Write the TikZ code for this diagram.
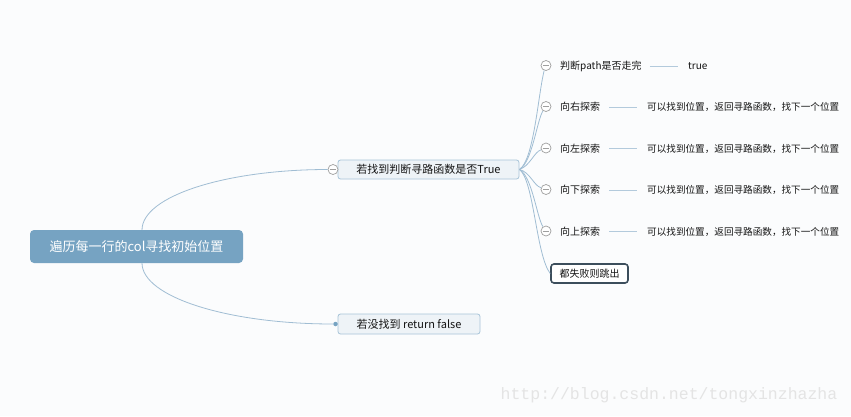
\documentclass[tikz,border=0pt]{standalone}
\usepackage{fontspec}
\setmainfont{Noto Sans CJK SC}
\newfontfamily\wmfont{Liberation Mono}
\usetikzlibrary{calc}
\definecolor{rootblue}{RGB}{118,163,194}
\definecolor{conncol}{RGB}{160,189,211}
\definecolor{boxfill}{RGB}{238,243,247}
\definecolor{boxline}{RGB}{168,196,216}
\definecolor{darkline}{RGB}{60,78,92}
\definecolor{bgcol}{RGB}{251,252,253}
\definecolor{wmcol}{RGB}{228,228,228}
\definecolor{txt}{RGB}{20,20,20}
\tikzset{
  x=1pt,y=1pt,
  conn/.style={draw=conncol,line width=0.8pt},
  rowline/.style={draw=conncol!80,line width=1pt},
  rootbox/.style={fill=rootblue,rounded corners=4pt,minimum width=213pt,minimum height=33pt,inner sep=0pt,text=white,font=\fontsize{13}{15}\selectfont},
  topicbox/.style={fill=boxfill,draw=boxline,line width=0.8pt,rounded corners=2.5pt,inner sep=0pt,text=txt,font=\fontsize{11}{13}\selectfont},
  failbox/.style={fill=white,draw=darkline,line width=1.6pt,rounded corners=3pt,minimum width=77pt,minimum height=19pt,inner sep=0pt,text=txt,font=\fontsize{10}{12}\selectfont},
  collapse/.style={circle,draw=gray!75,fill=white,line width=0.7pt,minimum size=10pt,inner sep=0pt,
    path picture={\draw[gray!75,line width=0.7pt] ([xshift=-3.2pt]path picture bounding box.center) -- ([xshift=3.2pt]path picture bounding box.center);}},
  dotnode/.style={circle,fill=rootblue,minimum size=4.5pt,inner sep=0pt},
  label10/.style={anchor=west,inner sep=0pt,text=txt,font=\fontsize{10}{12}\selectfont},
  labellong/.style={label10,font=\fontsize{9.6}{12}\selectfont},
}
\begin{document}
\begin{tikzpicture}
\useasboundingbox (0,0) rectangle (851,-416);
\fill[bgcol] (0,0) rectangle (851,-416);

% root
\node[rootbox] (root) at (136.5,-246.5) {遍历每一行的col寻找初始位置};

% level 1
\node[topicbox,minimum width=181pt,minimum height=19pt] (A) at (428.5,-169.5) {若找到判断寻路函数是否True};
\node[topicbox,minimum width=142pt,minimum height=20pt] (B) at (409,-324) {若没找到 return false};
\node[collapse] (cA) at (333,-169.5) {};
\node[dotnode] (dB) at (335.5,-324) {};

\coordinate (rt) at (142,-230);
\coordinate (rb) at (142,-263);
\draw[conn] (rt) .. controls (142,-196) and (226,-169.5) .. (cA.west);
\draw[conn] (rb) .. controls (142,-297) and (228,-324) .. (dB.west);

% level 2
\node[collapse] (c1) at (546,-65.5) {};
\node[collapse] (c2) at (546,-106.5) {};
\node[collapse] (c3) at (546,-148) {};
\node[collapse] (c4) at (546,-189.5) {};
\node[collapse] (c5) at (546,-231) {};
\node[failbox] (F) at (589.5,-273.5) {都失败则跳出};

\draw[conn] (A.east) .. controls (534,-160) and (538,-95) .. (c1.250);
\draw[conn] (A.east) .. controls (532,-163) and (537,-120) .. (c2.235);
\draw[conn] (A.east) .. controls (530,-166) and (534,-152) .. (c3.200);
\draw[conn] (A.east) .. controls (530,-172) and (534,-186) .. (c4.160);
\draw[conn] (A.east) .. controls (532,-176) and (537,-218) .. (c5.125);
\draw[conn] (A.east) .. controls (534,-180) and (536,-255) .. (F.west);

\node[label10] (t1) at (560,-66) {判断path是否走完};
\node[label10] (t2) at (560,-107) {向右探索};
\node[label10] (t3) at (560,-148.5) {向左探索};
\node[label10] (t4) at (560,-190) {向下探索};
\node[label10] (t5) at (560,-231.5) {向上探索};

\node[label10] (v1) at (688,-66) {true};
\node[labellong] (v2) at (647,-107) {可以找到位置，返回寻路函数，找下一个位置};
\node[labellong] (v3) at (647,-148.5) {可以找到位置，返回寻路函数，找下一个位置};
\node[labellong] (v4) at (647,-190) {可以找到位置，返回寻路函数，找下一个位置};
\node[labellong] (v5) at (647,-231.5) {可以找到位置，返回寻路函数，找下一个位置};

\draw[rowline] ([xshift=8pt]t1.east) -- ([xshift=-10pt]v1.west);
\draw[rowline] ([xshift=9pt]t2.east) -- ([xshift=-10pt]v2.west);
\draw[rowline] ([xshift=9pt]t3.east) -- ([xshift=-10pt]v3.west);
\draw[rowline] ([xshift=9pt]t4.east) -- ([xshift=-10pt]v4.west);
\draw[rowline] ([xshift=9pt]t5.east) -- ([xshift=-10pt]v5.west);

% watermark
\node[text=wmcol,font=\wmfont\fontsize{16.5}{18}\selectfont,inner sep=0pt] (wm) at (669,-395) {http://blog.csdn.net/tongxinzhazha};
\end{tikzpicture}
\end{document}
